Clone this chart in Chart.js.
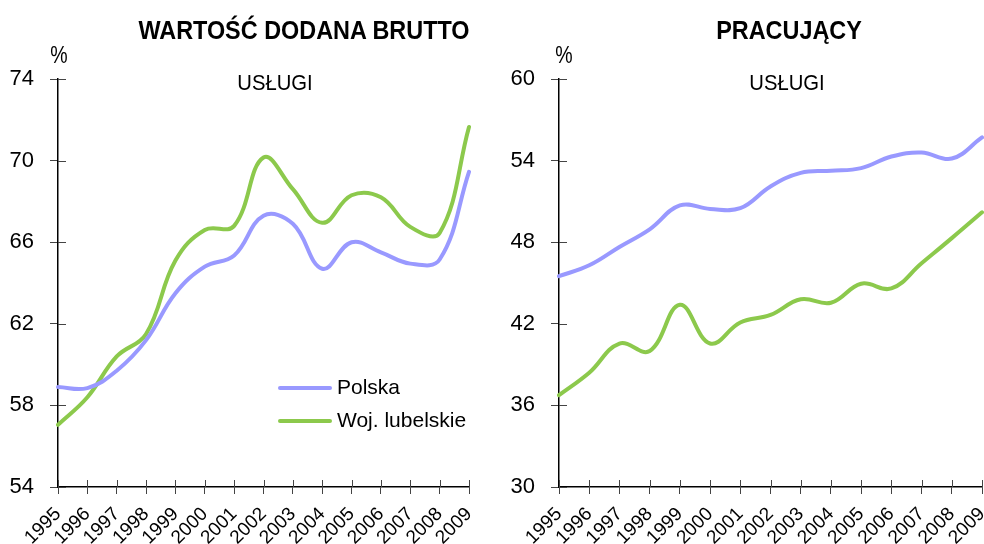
<!DOCTYPE html>
<html lang="pl">
<head>
<meta charset="utf-8">
<script src="https://cdn.jsdelivr.net/npm/chart.js@4/dist/chart.umd.min.js"></script>
<style>
  body { margin: 0; width: 984px; height: 544px; overflow: hidden; background: #fff; font-family: 'Liberation Sans', Arial, sans-serif; color: #000; }
  canvas { position: absolute; top: 0; }
  .txt { position: absolute; white-space: nowrap; text-align: center; line-height: 1; }
  .title { font-weight: bold; font-size: 26px; transform: scaleX(0.9); }
  .sub { font-size: 22px; transform: scaleX(0.92); }
  .pct { font-size: 23px; transform: scaleX(0.85); }
  .leg { position: absolute; font-size: 21px; line-height: 1; white-space: nowrap; }
  .leg span { display: inline-block; width: 54px; height: 4px; border-radius: 2px; vertical-align: middle; margin-right: 5px; }
</style>
</head>
<body>
<canvas id="vabChart" width="490" height="544" style="left:0"></canvas>
<canvas id="empChart" width="494" height="544" style="left:490px"></canvas>

<div class="txt title" style="left:104px;top:17px;width:400px">WARTOŚĆ DODANA BRUTTO</div>
<div class="txt title" style="left:589px;top:17px;width:400px">PRACUJĄCY</div>
<div class="txt sub" style="left:175px;top:72px;width:200px">USŁUGI</div>
<div class="txt sub" style="left:687px;top:72px;width:200px">USŁUGI</div>
<div class="txt pct" style="left:39px;top:44px;width:40px">%</div>
<div class="txt pct" style="left:544px;top:44px;width:40px">%</div>

<div id="legend"></div>

<script>
const years = ["1995", "1996", "1997", "1998", "1999", "2000", "2001", "2002", "2003", "2004", "2005", "2006", "2007", "2008", "2009"];

// Wartość dodana brutto - usługi (%)
const vabPolska = [58.9, 58.85, 59.7, 61.2, 63.5, 64.8, 65.35, 67.3, 66.9, 64.7, 66.0, 65.5, 64.95, 65.15, 69.45];
const vabLubelskie = [57.05, 58.4, 60.4, 61.5, 65.1, 66.6, 66.8, 70.15, 68.6, 66.95, 68.3, 68.2, 66.75, 66.45, 71.65];

// Pracujący - usługi (%)
const empPolska = [45.5, 46.3, 47.65, 48.95, 50.7, 50.45, 50.5, 52.1, 53.1, 53.25, 53.45, 54.3, 54.6, 54.15, 55.7];
const empLubelskie = [36.75, 38.4, 40.55, 40.0, 43.4, 40.55, 42.1, 42.65, 43.8, 43.55, 44.95, 44.6, 46.45, 48.3, 50.2];

const vabTicks = { min: 54, max: 74, step: 4 };
const empTicks = { min: 30, max: 60, step: 6 };

const seriesNames = ["Polska", "Woj. lubelskie"];
const seriesColors = ["#9999ff", "#8cc94c"];

const tickFont = "'Liberation Sans', Arial";

document.addEventListener("DOMContentLoaded", () => {
  // tick marks that also cross to the inside of the axes
  const innerTicks = {
    id: "innerTicks",
    afterDraw(chart) {
      const { ctx, scales: { x, y } } = chart;
      ctx.save();
      ctx.strokeStyle = "#444";
      ctx.lineWidth = 1;
      x.ticks.forEach((t, i) => {
        const px = Math.round(x.getPixelForTick(i)) + 0.5;
        ctx.beginPath();
        ctx.moveTo(px, x.top);
        ctx.lineTo(px, x.top - 7);
        ctx.stroke();
      });
      y.ticks.forEach((t, i) => {
        const py = Math.round(y.getPixelForTick(i)) + 0.5;
        ctx.beginPath();
        ctx.moveTo(y.right, py);
        ctx.lineTo(y.right + 8, py);
        ctx.stroke();
      });
      ctx.restore();
    }
  };

  function makeChart(id, polska, lubelskie, ticks, yWidth, padRight) {
    const ctx = document.getElementById(id).getContext("2d");
    return new Chart(ctx, {
      type: "line",
      data: {
        labels: years,
        datasets: [polska, lubelskie].map((d, i) => ({
          label: seriesNames[i],
          data: d,
          borderColor: seriesColors[i],
          backgroundColor: seriesColors[i],
          borderWidth: 4,
          borderCapStyle: "round",
          pointRadius: 0,
          tension: 0.4,
          fill: false
        }))
      },
      options: {
        responsive: false,
        animation: false,
        layout: { padding: { top: 79, right: padRight, left: 0, bottom: 0 } },
        scales: {
          x: {
            grid: { drawOnChartArea: false, tickLength: 7, color: "#444" },
            border: { color: "#000", width: 1.5 },
            ticks: {
              autoSkip: false,
              maxRotation: 45,
              minRotation: 45,
              padding: 9,
              color: "#000",
              font: { family: tickFont, size: 19 }
            },
            afterFit(scale) {
              scale.height = 57;
              scale.paddingLeft = 0;
              scale.paddingRight = 0;
            }
          },
          y: {
            min: ticks.min,
            max: ticks.max,
            grid: { drawOnChartArea: false, tickLength: 8, color: "#444" },
            border: { color: "#000", width: 1.5 },
            ticks: {
              stepSize: ticks.step,
              padding: 16,
              color: "#000",
              font: { family: tickFont, size: 22 }
            },
            afterFit(scale) {
              scale.width = yWidth;
            }
          }
        },
        plugins: {
          legend: { display: false },
          title: { display: false },
          tooltip: { enabled: false }
        }
      },
      plugins: [innerTicks]
    });
  }

  makeChart("vabChart", vabPolska, vabLubelskie, vabTicks, 58, 21);
  makeChart("empChart", empPolska, empLubelskie, empTicks, 69, 2);

  // legend inside the left chart
  const legend = document.getElementById("legend");
  seriesNames.forEach((name, i) => {
    const row = document.createElement("div");
    row.className = "leg";
    row.style.left = "278px";
    row.style.top = (376 + i * 33) + "px";
    row.innerHTML = '<span style="background:' + seriesColors[i] + '"></span>' + name;
    legend.appendChild(row);
  });
});
</script>
</body>
</html>
